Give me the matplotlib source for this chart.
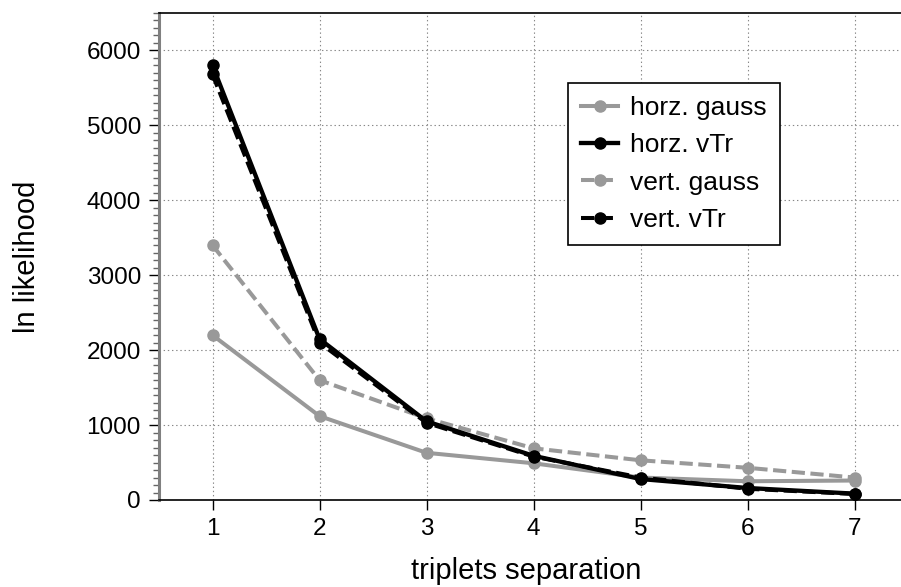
import matplotlib
matplotlib.use("Agg")
import matplotlib.pyplot as plt
from matplotlib.ticker import MultipleLocator

plt.rcParams['font.family'] = ['Liberation Sans', 'DejaVu Sans']
plt.rcParams['lines.scale_dashes'] = False

separation = [1, 2, 3, 4, 5, 6, 7]
horz_gauss = [2200, 1120, 630, 490, 300, 250, 260]
horz_vtr = [5800, 2150, 1050, 590, 280, 160, 85]
vert_gauss = [3400, 1600, 1090, 690, 530, 430, 300]
vert_vtr = [5680, 2100, 1030, 580, 300, 150, 80]

xticks = [1, 2, 3, 4, 5, 6, 7]
yticks = [0, 1000, 2000, 3000, 4000, 5000, 6000]

W, H = 901, 587
fig = plt.figure(figsize=(W / 100, H / 100), dpi=100)
ax = fig.add_axes([159 / W, 87 / H, (908 - 159) / W, (500 - 13) / H])

gray = '#999999'
lw = 2.9
ms = 8
dash = (0, (9.5, 4))
ax.plot(separation, horz_gauss, color=gray, lw=lw, marker='o', ms=ms, label='horz. gauss', zorder=3)
ax.plot(separation, horz_vtr, color='black', lw=lw + 0.2, marker='o', ms=ms, label='horz. vTr', zorder=4)
ax.plot(separation, vert_gauss, color=gray, lw=lw, marker='o', ms=ms, ls=dash, label='vert. gauss', zorder=3)
ax.plot(separation, vert_vtr, color='black', lw=lw, marker='o', ms=ms, ls=dash, label='vert. vTr', zorder=5)

ax.set_xlim(0.5, 7.5)
ax.set_ylim(0, 6500)
ax.set_xticks(xticks)
ax.set_yticks(yticks)
ax.yaxis.set_minor_locator(MultipleLocator(100))

ax.grid(True, which='major', color='#888888', ls=(0, (1, 2)), lw=0.8)
ax.set_axisbelow(True)

ax.spines['right'].set_visible(False)
ax.spines['left'].set_color('#808080')
ax.spines['left'].set_linewidth(2.2)
ax.spines['bottom'].set_linewidth(1.2)
ax.spines['top'].set_linewidth(1.2)

ax.tick_params(axis='both', which='major', direction='out', length=7.5, width=1.0,
               colors='black', labelsize=17.5, pad=5.5)
ax.tick_params(axis='y', which='minor', direction='out', length=4, width=1.0, color='#666666')

ax.set_xlabel('triplets separation', fontsize=21)
ax.set_ylabel('ln likelihood', fontsize=21)
ax.xaxis.set_label_coords((526 - 159) / 749, -(557 - 500) / 487)
ax.yaxis.set_label_coords(-(159 - 41) / 749, (500 - 257) / 487)

leg = ax.legend(loc='upper left', bbox_to_anchor=(568 / W, 1 - 83 / H), bbox_transform=fig.transFigure,
                borderaxespad=0, fancybox=False, framealpha=1, edgecolor='black', fontsize=19,
                handlelength=1.4, handletextpad=0.45, labelspacing=0.5, borderpad=0.5)
leg.get_frame().set_linewidth(1.2)

fig.savefig('out.png', dpi=100)
